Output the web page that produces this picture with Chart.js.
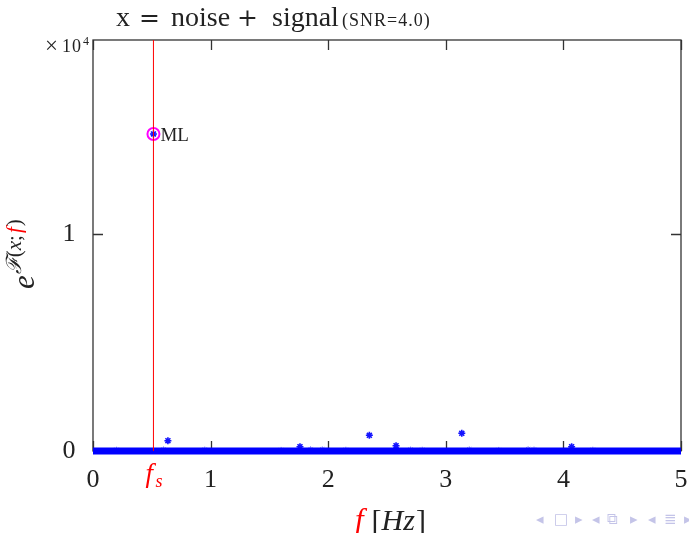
<!DOCTYPE html>
<html>
<head>
<meta charset="utf-8">
<script src="https://cdn.jsdelivr.net/npm/chart.js@4/dist/chart.umd.min.js"></script>
<style>
  body { margin: 0; background: #fff; }
</style>
</head>
<body>
<canvas id="chart" width="689" height="533"></canvas>
<script>
// values
const xTicks = [0, 1, 2, 3, 4, 5];
const yTicks = [0, 10000];
const yMax = 18940;
const fs = 0.514;
const mlFreq = [0.514];
const mlValue = [14610];
const peakFreqs = [0.637, 1.76, 2.35, 2.577, 3.136, 4.07];
const peakValues = [475, 198, 723, 244, 816, 198];
const speckFreqs = [0.2, 0.6, 0.95, 1.6, 1.85, 1.95, 2.15, 2.7, 2.8, 3.2, 3.45, 3.7, 3.75, 4.25];
const speckValues = [60, 80, 70, 50, 90, 80, 60, 70, 60, 80, 50, 90, 70, 60];
const floorFreqs = [0, 5];
const floorValues = [0, 0];

const serif = '"Liberation Serif", "DejaVu Serif", serif';
const toXY = (xs, ys) => xs.map((x, i) => ({ x: x, y: ys[i] }));

// frame, inward ticks and all the LaTeX-ish text
const decor = {
  id: 'decor',
  beforeDatasetsDraw(chart) {
    const { ctx, chartArea: a, scales: { x, y } } = chart;
    ctx.save();
    ctx.strokeStyle = '#333';
    ctx.lineWidth = 1.3;
    ctx.strokeRect(a.left, a.top, a.right - a.left, a.bottom - a.top);
    ctx.beginPath();
    xTicks.forEach(t => {
      const px = Math.round(x.getPixelForValue(t)) + 0.5;
      ctx.moveTo(px, a.bottom); ctx.lineTo(px, a.bottom - 10);
      ctx.moveTo(px, a.top); ctx.lineTo(px, a.top + 10);
    });
    yTicks.forEach(t => {
      const py = Math.round(y.getPixelForValue(t)) + 0.5;
      ctx.moveTo(a.left, py); ctx.lineTo(a.left + 10, py);
      ctx.moveTo(a.right, py); ctx.lineTo(a.right - 10, py);
    });
    ctx.stroke();
    ctx.restore();
  },
  afterDraw(chart) {
    const { ctx, chartArea: a, scales: { x, y } } = chart;
    ctx.save();
    ctx.fillStyle = '#222';

    // tick labels
    ctx.font = '26px ' + serif;
    ctx.textAlign = 'center';
    ctx.textBaseline = 'alphabetic';
    xTicks.forEach(t => ctx.fillText(String(t), x.getPixelForValue(t), 487));
    ctx.textBaseline = 'middle';
    yTicks.forEach(t => ctx.fillText(String(t / 10000), 69, y.getPixelForValue(t)));

    // x10^4
    ctx.textAlign = 'left';
    ctx.textBaseline = 'alphabetic';
    ctx.font = '23px ' + serif;
    ctx.fillText('\u00d7', 45, 53);
    ctx.font = '18px ' + serif;
    ctx.letterSpacing = '1px';
    ctx.fillText('10', 62, 52);
    ctx.letterSpacing = '0px';
    ctx.font = '12px ' + serif;
    ctx.fillText('4', 83, 45);

    // title, word by word like TeX spacing
    ctx.font = '28px ' + serif;
    [['x', 116], ['noise', 171], ['signal', 272]].forEach(p => ctx.fillText(p[0], p[1], 26));
    ctx.font = '25px "DejaVu Serif", serif';
    [['=', 139], ['+', 237]].forEach(p => ctx.fillText(p[0], p[1], 26));
    ctx.font = '18px ' + serif;
    ctx.letterSpacing = '1px';
    ctx.fillText('(SNR=4.0)', 342, 26);
    ctx.letterSpacing = '0px';

    // f_s under the axis
    const fx = x.getPixelForValue(fs);
    ctx.fillStyle = 'red';
    ctx.font = 'italic 27px ' + serif;
    ctx.fillText('f', fx - 8, 482);
    ctx.font = 'italic 18px ' + serif;
    ctx.fillText('s', fx + 2, 487);

    // ML label
    ctx.fillStyle = '#222';
    ctx.font = '19px ' + serif;
    ctx.fillText('ML', x.getPixelForValue(mlFreq[0]) + 7, y.getPixelForValue(mlValue[0]) + 7);

    // x axis title: f [Hz]
    let cx = 355;
    ctx.font = 'italic 31px ' + serif;
    ctx.fillStyle = 'red';
    ctx.fillText('f', cx, 530);
    cx += ctx.measureText('f').width + 8;
    ctx.fillStyle = '#222';
    ctx.font = '30px ' + serif;
    ctx.fillText('[', cx, 530);
    cx += ctx.measureText('[').width;
    ctx.font = 'italic 30px ' + serif;
    ctx.fillText('Hz', cx, 530);
    cx += ctx.measureText('Hz').width + 1;
    ctx.font = '30px ' + serif;
    ctx.fillText(']', cx, 530);

    // y axis title: e^{F(x;f)}
    ctx.save();
    ctx.translate(34, 289);
    ctx.rotate(-Math.PI / 2);
    ctx.font = 'italic 31px ' + serif;
    ctx.fillText('e', 0, 0);
    let sx = ctx.measureText('e').width + 1;
    const sy = -13;
    ctx.font = 'italic 21px "DejaVu Serif", serif';
    ctx.fillText('\u2131', sx, sy);
    sx += ctx.measureText('\u2131').width;
    ctx.font = '21px ' + serif;
    ctx.fillText('(', sx, sy);
    sx += ctx.measureText('(').width;
    ctx.font = 'italic 21px ' + serif;
    ctx.fillText('x', sx, sy);
    sx += ctx.measureText('x').width;
    ctx.font = '21px ' + serif;
    ctx.fillText(';', sx, sy);
    sx += ctx.measureText(';').width + 2;
    ctx.fillStyle = 'red';
    ctx.font = 'italic 21px ' + serif;
    ctx.fillText('f', sx, sy);
    sx += ctx.measureText('f').width + 1;
    ctx.fillStyle = '#222';
    ctx.font = '21px ' + serif;
    ctx.fillText(')', sx, sy);
    ctx.restore();

    // beamer navigation symbols
    ctx.fillStyle = 'rgb(196,196,232)';
    ctx.font = '15px "DejaVu Sans", sans-serif';
    ctx.textBaseline = 'middle';
    [['\u25c2', 536], ['\u25a1', 554], ['\u25b8', 575], ['\u25c2', 592],
     ['\u29c9', 607], ['\u25b8', 630], ['\u25c2', 648], ['\u2263', 664], ['\u25b8', 684]].forEach(p => {
      ctx.fillText(p[0], p[1], 520);
    });

    ctx.restore();
  }
};

new Chart(document.getElementById('chart'), {
  type: 'scatter',
  data: {
    datasets: [
      {
        label: 'fs',
        data: [{ x: fs, y: 0 }, { x: fs, y: yMax }],
        showLine: true,
        borderColor: 'red',
        borderWidth: 1,
        pointRadius: 0
      },
      {
        label: 'floor',
        data: toXY(floorFreqs, floorValues),
        showLine: true,
        borderColor: 'rgb(0,0,255)',
        borderWidth: 7,
        pointRadius: 0,
        clip: false
      },
      {
        label: 'specks',
        data: toXY(speckFreqs, speckValues),
        pointStyle: 'star',
        pointRadius: 3,
        borderWidth: 1,
        borderColor: 'rgba(110,110,255,0.7)',
        clip: false
      },
      {
        label: 'peaks',
        data: toXY(peakFreqs, peakValues),
        pointStyle: 'star',
        pointRadius: 3.5,
        borderWidth: 1.6,
        borderColor: 'rgb(20,20,255)',
        clip: false
      },
      {
        label: 'ML star',
        data: toXY(mlFreq, mlValue),
        pointStyle: 'star',
        pointRadius: 3.5,
        borderWidth: 1.6,
        borderColor: 'rgb(20,20,255)'
      },
      {
        label: 'ML',
        data: toXY(mlFreq, mlValue),
        pointStyle: 'circle',
        pointRadius: 6,
        borderWidth: 2,
        borderColor: 'magenta',
        backgroundColor: 'rgba(0,0,0,0)'
      }
    ]
  },
  options: {
    responsive: false,
    animation: false,
    devicePixelRatio: 1,
    layout: { padding: { left: 93, right: 8, top: 40, bottom: 82 } },
    plugins: { legend: { display: false }, tooltip: { enabled: false } },
    scales: {
      x: { type: 'linear', min: 0, max: 5, display: false },
      y: { type: 'linear', min: 0, max: yMax, display: false }
    }
  },
  plugins: [decor]
});
</script>
</body>
</html>
